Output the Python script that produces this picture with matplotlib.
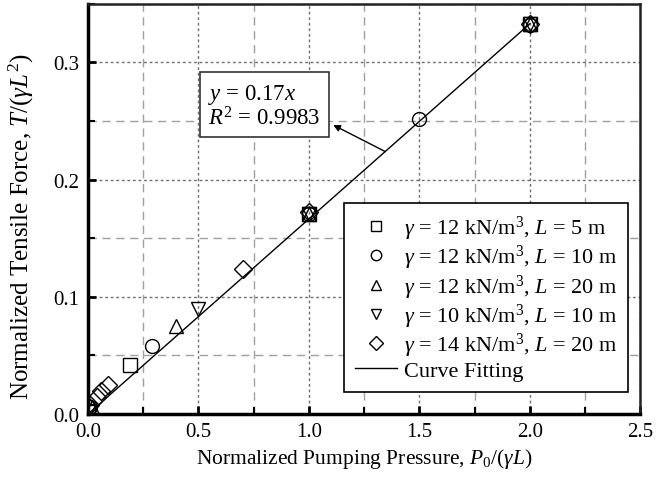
import matplotlib
matplotlib.use("Agg")
import matplotlib.pyplot as plt
from matplotlib.ticker import MultipleLocator, FormatStrFormatter

plt.rcParams['font.family'] = ['Liberation Serif', 'DejaVu Serif']
plt.rcParams['mathtext.fontset'] = 'custom'
plt.rcParams['mathtext.rm'] = 'Liberation Serif'
plt.rcParams['mathtext.it'] = 'Liberation Serif:italic'
plt.rcParams['mathtext.bf'] = 'Liberation Serif:bold'

# Data
sq_x = [0.00, 0.19, 1.00, 2.00]
sq_y = [0.003, 0.042, 0.171, 0.333]
ci_x = [0.01, 0.29, 1.00, 1.50, 2.00]
ci_y = [0.006, 0.058, 0.171, 0.252, 0.332]
tu_x = [0.02, 0.40, 1.00, 2.00]
tu_y = [0.006, 0.075, 0.171, 0.333]
td_x = [0.00, 0.50, 1.00, 2.00]
td_y = [0.002, 0.090, 0.171, 0.333]
di_x = [0.01, 0.04, 0.06, 0.09, 0.70, 1.00, 2.00]
di_y = [0.008, 0.015, 0.020, 0.025, 0.124, 0.172, 0.333]
fit_x = [0.0, 2.0]
fit_y = [0.0, 0.333]

labels = [
    r'$\gamma$ = 12 kN/m$^3$, $L$ = 5 m',
    r'$\gamma$ = 12 kN/m$^3$, $L$ = 10 m',
    r'$\gamma$ = 12 kN/m$^3$, $L$ = 20 m',
    r'$\gamma$ = 10 kN/m$^3$, $L$ = 10 m',
    r'$\gamma$ = 14 kN/m$^3$, $L$ = 20 m',
    'Curve Fitting',
]

fig = plt.figure(figsize=(6.67, 4.81), dpi=100)
ax = fig.add_axes([0.132, 0.137, 0.828, 0.853])

ax.set_xlim(0, 2.5)
ax.set_ylim(0, 0.35)
ax.xaxis.set_major_locator(MultipleLocator(0.5))
ax.xaxis.set_minor_locator(MultipleLocator(0.25))
ax.yaxis.set_major_locator(MultipleLocator(0.1))
ax.yaxis.set_minor_locator(MultipleLocator(0.05))
ax.xaxis.set_major_formatter(FormatStrFormatter('%.1f'))
ax.yaxis.set_major_formatter(FormatStrFormatter('%.1f'))

ax.grid(which='major', color='#707070', linestyle=(0, (2, 2)), linewidth=1.0)
ax.grid(which='minor', color='#a0a0a0', linestyle=(0, (6, 4)), linewidth=1.0)
ax.set_axisbelow(True)

mk = dict(linestyle='none', markerfacecolor='none', markeredgecolor='black',
          markeredgewidth=1.0, markersize=10)
ax.plot(sq_x, sq_y, marker='s', label=labels[0], **mk)
ax.plot(ci_x, ci_y, marker='o', label=labels[1], **mk)
ax.plot(tu_x, tu_y, marker='^', label=labels[2], **mk)
ax.plot(td_x, td_y, marker='v', label=labels[3], **mk)
ax.plot(di_x, di_y, marker='D', label=labels[4], **{**mk, 'markersize': 9})
ax.plot(fit_x, fit_y, color='black', linewidth=1.0, label=labels[5])

ax.text(0.545, 0.263, '$y$ = 0.17$x$\n$R^2$ = 0.9983', fontsize=16.5, ha='left', va='center',
        linespacing=1.0,
        bbox=dict(boxstyle='square,pad=0.35', fc='white', ec='#333333', lw=1.2), zorder=5)
ax.annotate('', xy=(1.11, 0.2466), xytext=(1.345, 0.224),
            arrowprops=dict(arrowstyle='-|>', color='black', lw=1.0, shrinkA=0, shrinkB=0,
                            mutation_scale=10), zorder=6)

leg = ax.legend(loc='lower right', bbox_to_anchor=(0.978, 0.054), fontsize=16, frameon=True,
                fancybox=False, edgecolor='black', framealpha=1, handlelength=1.9,
                handletextpad=0.3, labelspacing=0.05, borderpad=0.5, borderaxespad=0.0,
                markerscale=0.75)
leg.get_frame().set_linewidth(1.2)

for s in ['left', 'bottom']:
    ax.spines[s].set_linewidth(2.5)
for s in ['top', 'right']:
    ax.spines[s].set_linewidth(1.8)
    ax.spines[s].set_color('#222222')

ax.tick_params(which='both', direction='in', top=False, right=False, labelsize=15, pad=6)
ax.tick_params(which='major', length=6, width=2)
ax.tick_params(which='minor', length=5, width=1.5)

ax.set_xlabel(r'Normalized Pumping Pressure, $P_0/(\gamma L)$', fontsize=15.5, labelpad=3)
ax.set_ylabel(r'Normalized Tensile Force, $T/(\gamma L^2)$', fontsize=18)
ax.yaxis.set_label_coords(-0.095, 0.46)

fig.savefig('out.png', dpi=100)
